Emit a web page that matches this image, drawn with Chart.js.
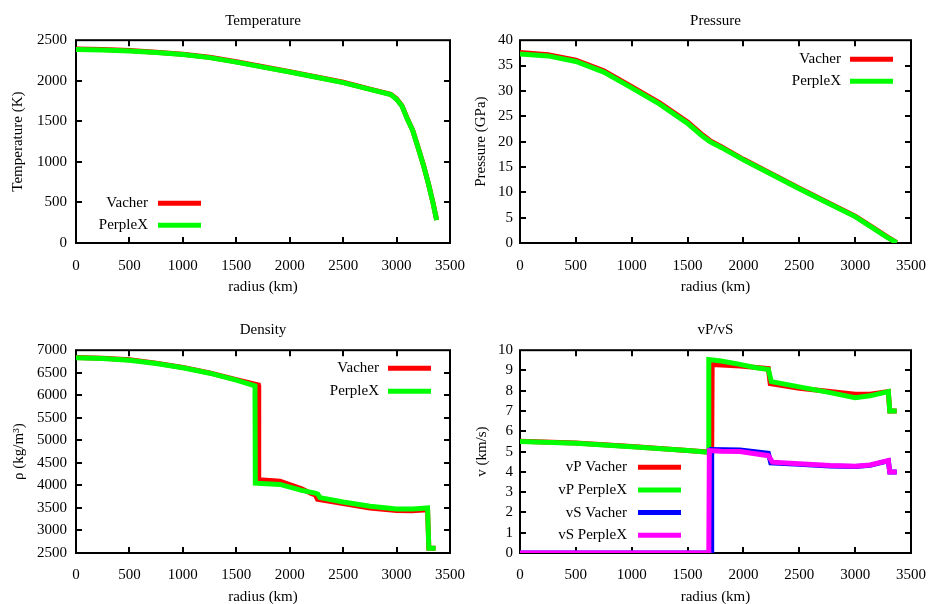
<!DOCTYPE html>
<html>
<head>
<meta charset="utf-8">
<script src="https://cdn.jsdelivr.net/npm/chart.js@4"></script>
<style>
  html, body { margin: 0; padding: 0; background: #fff; overflow: hidden; }
  canvas { position: absolute; background: #fff; }
</style>
</head>
<body>
<canvas id="c1" width="465" height="302" style="left:0;top:0"></canvas>
<canvas id="c2" width="464" height="302" style="left:465px;top:0"></canvas>
<canvas id="c3" width="465" height="302" style="left:0;top:302px"></canvas>
<canvas id="c4" width="464" height="302" style="left:465px;top:302px"></canvas>
<script>
// ---------- DATA ----------
const radiusTicks = [0, 500, 1000, 1500, 2000, 2500, 3000, 3500];

// Temperature (K)
const tempRadius  = [0, 250, 500, 750, 1000, 1250, 1500, 1750, 2000, 2250, 2500, 2750, 2945, 3000, 3050, 3100, 3150, 3200, 3250, 3300, 3340, 3375];
const tempVacher  = [2390, 2384, 2372, 2352, 2328, 2289, 2234, 2172, 2112, 2047, 1981, 1897, 1834, 1777, 1693, 1534, 1393, 1183, 968, 722, 503, 285];
const tempPerplex = [2386, 2380, 2368, 2348, 2324, 2285, 2230, 2168, 2108, 2043, 1977, 1893, 1830, 1773, 1690, 1530, 1390, 1180, 965, 719, 500, 282];

// Pressure (GPa)
const presRadius  = [0, 250, 500, 750, 1000, 1250, 1500, 1626, 1700, 1805, 2000, 2250, 2500, 2750, 3000, 3150, 3280, 3372];
const presVacher  = [37.6, 37.15, 36.05, 33.95, 30.85, 27.65, 23.85, 21.45, 20.2, 18.95, 16.5, 13.65, 10.8, 8.05, 5.3, 3.2, 1.3, 0.05];
const presPerplex = [37.3, 36.9, 35.8, 33.7, 30.6, 27.4, 23.6, 21.2, 20.0, 18.8, 16.4, 13.55, 10.7, 7.95, 5.2, 3.1, 1.2, 0.05];

// Density (kg/m3)
const densRadiusVacher  = [0, 250, 500, 750, 1000, 1250, 1500, 1706, 1710, 1909, 2112, 2206, 2240, 2260, 2500, 2750, 3000, 3140, 3290, 3302, 3365];
const densVacher        = [6840, 6823, 6787, 6713, 6618, 6498, 6346, 6230, 4126, 4095, 3927, 3817, 3790, 3690, 3596, 3500, 3442, 3438, 3460, 2604, 2604];
const densRadiusPerplex = [0, 250, 500, 750, 1000, 1250, 1500, 1675, 1678, 1909, 2112, 2237, 2262, 2283, 2500, 2751, 3000, 3150, 3290, 3302, 3365];
const densPerplex       = [6831, 6815, 6779, 6705, 6610, 6490, 6338, 6210, 4050, 4022, 3890, 3830, 3810, 3729, 3632, 3537, 3477, 3475, 3499, 2604, 2604];

// Seismic velocities (km/s)
const vpRadiusVacher  = [0, 500, 1000, 1500, 1716, 1720, 1969, 2223, 2240, 2500, 2775, 3000, 3133, 3297, 3310, 3372];
const vpVacher        = [5.51, 5.42, 5.25, 5.06, 4.97, 9.30, 9.22, 9.10, 8.35, 8.12, 7.96, 7.83, 7.83, 7.96, 7.00, 7.00];
const vpRadiusPerplex = [0, 500, 1000, 1500, 1686, 1690, 1800, 1969, 2100, 2223, 2250, 2500, 2775, 3000, 3133, 3297, 3310, 3372];
const vpPerplex       = [5.50, 5.41, 5.24, 5.05, 4.97, 9.54, 9.47, 9.30, 9.15, 9.05, 8.45, 8.19, 7.91, 7.66, 7.75, 7.96, 7.00, 7.00];
const vsRadiusVacher  = [0, 1710, 1716, 1969, 2223, 2245, 2500, 2775, 3000, 3133, 3297, 3310, 3372];
const vsVacher        = [0, 0, 5.10, 5.08, 4.92, 4.45, 4.37, 4.29, 4.26, 4.32, 4.54, 4.00, 4.00];
const vsRadiusPerplex = [0, 1690, 1695, 1800, 1969, 2223, 2260, 2500, 2775, 3000, 3133, 3297, 3310, 3372];
const vsPerplex       = [0, 0, 5.05, 5.02, 5.00, 4.80, 4.48, 4.40, 4.31, 4.28, 4.34, 4.56, 4.00, 4.00];

// ---------- HELPERS ----------
const FONT = 'Liberation Serif';
const pts = (xs, ys) => xs.map((x, i) => ({ x: x, y: ys[i] }));
const RED = '#ff0000', GREEN = '#00ff00', BLUE = '#0000ff', MAGENTA = '#ff00ff';

const frameTicks = {
  id: 'frameTicks',
  beforeDatasetsDraw(chart) {
    const { ctx, chartArea: a, scales } = chart;
    ctx.save();
    ctx.strokeStyle = '#000';
    ctx.lineWidth = 2;
    ctx.strokeRect(a.left, a.top, a.right - a.left, a.bottom - a.top);
    const L = 6;
    ctx.beginPath();
    scales.x.ticks.forEach(t => {
      const px = Math.round(scales.x.getPixelForValue(t.value));
      if (px <= a.left + 1 || px >= a.right - 1) return;
      ctx.moveTo(px, a.bottom); ctx.lineTo(px, a.bottom - L);
      ctx.moveTo(px, a.top); ctx.lineTo(px, a.top + L);
    });
    scales.y.ticks.forEach(t => {
      const py = Math.round(scales.y.getPixelForValue(t.value));
      if (py <= a.top + 1 || py >= a.bottom - 1) return;
      ctx.moveTo(a.left, py); ctx.lineTo(a.left + L, py);
      ctx.moveTo(a.right, py); ctx.lineTo(a.right - L, py);
    });
    ctx.stroke();
    ctx.restore();
  }
};

const gpLegend = {
  id: 'gpLegend',
  afterDraw(chart, args, o) {
    const { ctx, chartArea: a } = chart;
    const base = o.side === 'left' ? a.left + o.x : a.right + o.x;
    ctx.save();
    ctx.font = '15px "' + FONT + '"';
    ctx.textAlign = 'right';
    ctx.textBaseline = 'middle';
    ctx.fillStyle = '#000';
    chart.data.datasets.forEach((ds, i) => {
      const y = a.top + o.y + i * o.dy;
      ctx.fillText(ds.label, base - o.gap, y);
      ctx.strokeStyle = ds.borderColor;
      ctx.lineWidth = 5;
      ctx.beginPath();
      ctx.moveTo(base, y);
      ctx.lineTo(base + 43, y);
      ctx.stroke();
    });
    ctx.restore();
  }
};

function ds(label, data, color, order) {
  return { label, data, borderColor: color, backgroundColor: color, borderWidth: 5,
           pointRadius: 0, tension: 0, fill: false, order };
}

function makeChart(id, cfg) {
  const tickFont = { family: FONT, size: 15 };
  new Chart(document.getElementById(id), {
    type: 'line',
    data: { datasets: cfg.datasets },
    options: {
      responsive: false, animation: false, devicePixelRatio: 1,
      layout: { padding: { left: 0, right: cfg.padRight, top: 0, bottom: 0 } },
      plugins: {
        legend: { display: false },
        tooltip: { enabled: false },
        title: {
          display: true, text: cfg.title, fullSize: false, color: '#000',
          font: { family: FONT, size: 15, weight: 'normal', lineHeight: 1.2 },
          padding: { top: cfg.titleTop, bottom: cfg.titleBottom }
        },
        gpLegend: cfg.legend
      },
      scales: {
        x: {
          type: 'linear', min: 0, max: 3500,
          afterBuildTicks: s => { s.ticks = radiusTicks.map(v => ({ value: v })); },
          ticks: { font: tickFont, color: '#000', padding: cfg.xTickPad, maxRotation: 0, autoSkip: false,
                   callback: v => String(v) },
          grid: { display: false, drawTicks: false },
          border: { display: false },
          title: { display: true, text: 'radius (km)', color: '#000',
                   font: { family: FONT, size: 15, lineHeight: 1.2 },
                   padding: { top: 0, bottom: cfg.xTitlePad } },
          afterFit: s => { s.height = cfg.xHeight; s.paddingLeft = 0; s.paddingRight = 0; }
        },
        y: {
          type: 'linear', min: cfg.yMin, max: cfg.yMax,
          afterBuildTicks: s => { s.ticks = cfg.yTicks.map(v => ({ value: v })); },
          ticks: { font: tickFont, color: '#000', padding: cfg.yTickPad, autoSkip: false,
                   callback: v => String(v) },
          grid: { display: false, drawTicks: false },
          border: { display: false },
          title: { display: true, text: cfg.yTitle, color: '#000',
                   font: { family: FONT, size: 15, lineHeight: 1.2 },
                   padding: { top: cfg.yTitlePad, bottom: 0 } },
          afterFit: s => { s.width = cfg.yWidth; s.paddingTop = 0; s.paddingBottom = 0; }
        }
      }
    },
    plugins: [frameTicks, gpLegend]
  });
}

const tempTicks = [0, 500, 1000, 1500, 2000, 2500];
const presTicks = [0, 5, 10, 15, 20, 25, 30, 35, 40];
const densTicks = [2500, 3000, 3500, 4000, 4500, 5000, 5500, 6000, 6500, 7000];
const velTicks  = [0, 1, 2, 3, 4, 5, 6, 7, 8, 9, 10];

makeChart('c1', {
  title: 'Temperature', yTitle: 'Temperature (K)',
  yMin: 0, yMax: 2500, yTicks: tempTicks,
  datasets: [ds('Vacher', pts(tempRadius, tempVacher), RED, 2),
             ds('PerpleX', pts(tempRadius, tempPerplex), GREEN, 1)],
  padRight: 15, yWidth: 76, xHeight: 59, titleTop: 12, titleBottom: 10.2,
  xTickPad: 14, xTitlePad: 6, yTickPad: 9, yTitlePad: 9,
  legend: { side: 'left', x: 82, gap: 10, y: 163, dy: 22 }
});

makeChart('c2', {
  title: 'Pressure', yTitle: 'Pressure (GPa)',
  yMin: 0, yMax: 40, yTicks: presTicks,
  datasets: [ds('Vacher', pts(presRadius, presVacher), RED, 2),
             ds('PerpleX', pts(presRadius, presPerplex), GREEN, 1)],
  padRight: 18, yWidth: 55, xHeight: 59, titleTop: 12, titleBottom: 10.2,
  xTickPad: 14, xTitlePad: 6, yTickPad: 7, yTitlePad: 7,
  legend: { side: 'right', x: -61, gap: 9, y: 19, dy: 22 }
});

makeChart('c3', {
  title: 'Density', yTitle: 'ρ (kg/m³)',
  yMin: 2500, yMax: 7000, yTicks: densTicks,
  datasets: [ds('Vacher', pts(densRadiusVacher, densVacher), RED, 2),
             ds('PerpleX', pts(densRadiusPerplex, densPerplex), GREEN, 1)],
  padRight: 15, yWidth: 76, xHeight: 51, titleTop: 18.6, titleBottom: 11.6,
  xTickPad: 13, xTitlePad: -2, yTickPad: 9, yTitlePad: 10,
  legend: { side: 'right', x: -62, gap: 9, y: 18, dy: 23 }
});

makeChart('c4', {
  title: 'vP/vS', yTitle: 'v (km/s)',
  yMin: 0, yMax: 10, yTicks: velTicks,
  datasets: [ds('vP Vacher', pts(vpRadiusVacher, vpVacher), RED, 4),
             ds('vP PerpleX', pts(vpRadiusPerplex, vpPerplex), GREEN, 3),
             ds('vS Vacher', pts(vsRadiusVacher, vsVacher), BLUE, 2),
             ds('vS PerpleX', pts(vsRadiusPerplex, vsPerplex), MAGENTA, 1)],
  padRight: 18, yWidth: 55, xHeight: 51, titleTop: 18.6, titleBottom: 11.6,
  xTickPad: 13, xTitlePad: -2, yTickPad: 7, yTitlePad: 8,
  legend: { side: 'left', x: 118, gap: 11, y: 117, dy: 22.7 }
});
</script>
</body>
</html>
